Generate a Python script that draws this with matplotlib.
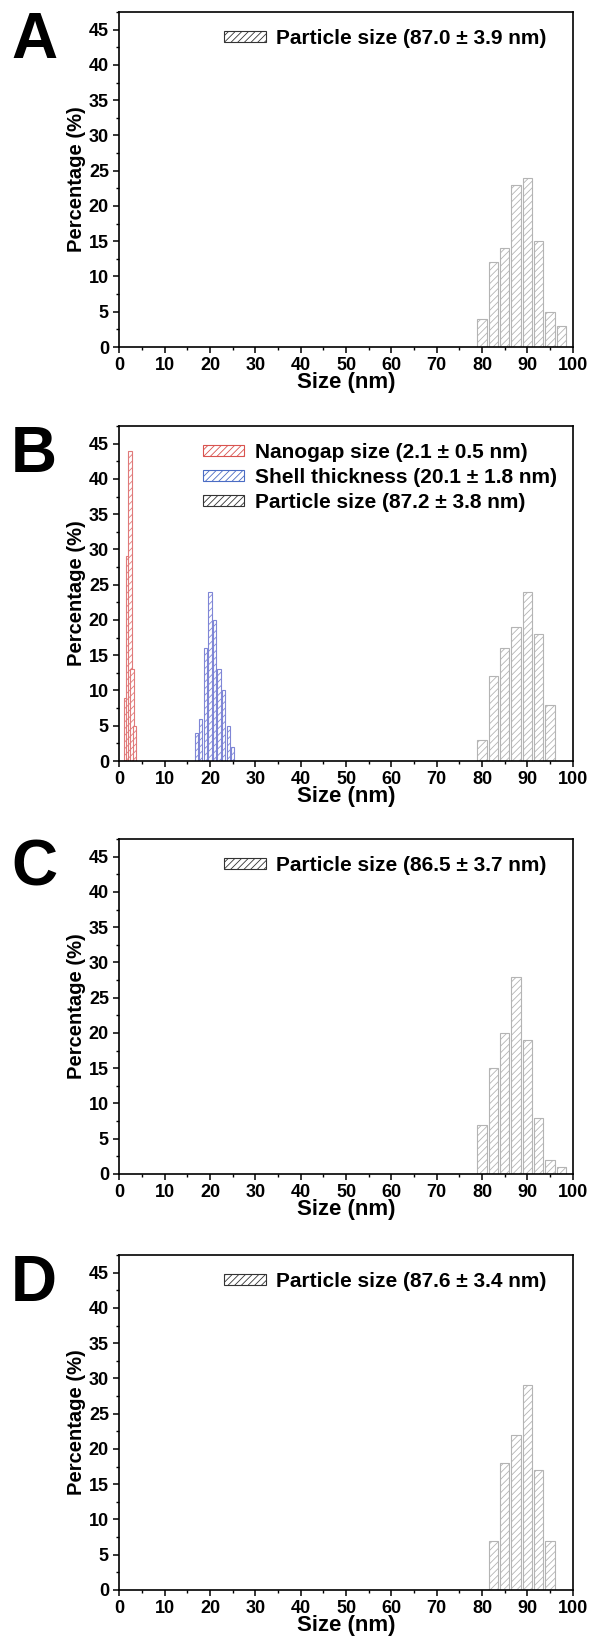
import numpy as np
import matplotlib
matplotlib.use("Agg")
from matplotlib import pyplot as plt
from matplotlib.patches import Patch
from matplotlib.ticker import MultipleLocator

plt.rcParams['font.family'] = ['Liberation Sans', 'DejaVu Sans']
plt.rcParams['font.weight'] = 'bold'
plt.rcParams['hatch.linewidth'] = 0.6

# particle size histograms (bin centre nm, percentage)
size_bins_a = [80, 82.5, 85, 87.5, 90, 92.5, 95, 97.5]
size_pct_a = [4, 12, 14, 23, 24, 15, 5, 3]

size_bins_b = [80, 82.5, 85, 87.5, 90, 92.5, 95]
size_pct_b = [3, 12, 16, 19, 24, 18, 8]

gap_bins_b = [1.4, 1.9, 2.35, 2.8, 3.3]
gap_pct_b = [9, 29, 44, 13, 5]

shell_bins_b = [17, 18, 19, 20, 21, 22, 23, 24, 25]
shell_pct_b = [4, 6, 16, 24, 20, 13, 10, 5, 2]

size_bins_c = [80, 82.5, 85, 87.5, 90, 92.5, 95, 97.5]
size_pct_c = [7, 15, 20, 28, 19, 8, 2, 1]

size_bins_d = [82.5, 85, 87.5, 90, 92.5, 95]
size_pct_d = [7, 18, 22, 29, 17, 7]

panel_letters = ['A', 'B', 'C', 'D']
size_labels = ['Particle size (87.0 ± 3.9 nm)', 'Particle size (87.2 ± 3.8 nm)',
               'Particle size (86.5 ± 3.7 nm)', 'Particle size (87.6 ± 3.4 nm)']
gap_label = 'Nanogap size (2.1 ± 0.5 nm)'
shell_label = 'Shell thickness (20.1 ± 1.8 nm)'

W, H = 590, 1650
fig = plt.figure(figsize=(W / 100, H / 100), dpi=100)

bottoms = [347, 761, 1174, 1590]
left, right = 119.3, 572.7
ax_h = 335
legend_x = [0.943, 0.965, 0.943, 0.943]

grey = '#b4b4b4'
red = '#e07a7a'
blue = '#7f86d6'
hatch = '/////'

size_data = [(size_bins_a, size_pct_a), (size_bins_b, size_pct_b),
             (size_bins_c, size_pct_c), (size_bins_d, size_pct_d)]

for i, b in enumerate(bottoms):
    ax = fig.add_axes([left / W, 1 - b / H, (right - left) / W, ax_h / H])
    bins, pct = size_data[i]
    ax.bar(bins, pct, width=2.1, color='white', edgecolor=grey, hatch=hatch, linewidth=0.8)
    handles = []
    labels = []
    if i == 1:
        ax.bar(gap_bins_b, gap_pct_b, width=0.7, color='white', edgecolor=red, hatch=hatch, linewidth=0.8)
        ax.bar(shell_bins_b, shell_pct_b, width=0.7, color='white', edgecolor=blue, hatch=hatch, linewidth=0.8)
        handles += [Patch(facecolor='white', edgecolor='#d9534f', hatch=hatch, linewidth=0.8),
                    Patch(facecolor='white', edgecolor='#4a6cc4', hatch=hatch, linewidth=0.8)]
        labels += [gap_label, shell_label]
    handles.append(Patch(facecolor='white', edgecolor='#333333', hatch=hatch, linewidth=0.8))
    labels.append(size_labels[i])
    ax.legend(handles, labels, loc='upper right', frameon=False, fontsize=15,
              handlelength=2.0, handleheight=0.45, handletextpad=0.5,
              labelspacing=0.3, borderaxespad=0, borderpad=0,
              bbox_to_anchor=(legend_x[i], 0.95))

    ax.set_xlim(0, 100)
    ax.set_ylim(0, 47.5)
    ax.xaxis.set_major_locator(MultipleLocator(10))
    ax.xaxis.set_minor_locator(MultipleLocator(5))
    ax.yaxis.set_major_locator(MultipleLocator(5))
    ax.yaxis.set_minor_locator(MultipleLocator(2.5))
    ax.tick_params(which='major', direction='out', length=4.5, width=1.1, labelsize=13, pad=3)
    ax.tick_params(which='minor', direction='out', length=2.5, width=1.0)
    for s in ax.spines.values():
        s.set_linewidth(1.2)
    ax.set_xlabel('Size (nm)', fontsize=16, fontweight='bold', labelpad=-2)
    ax.set_ylabel('Percentage (%)', fontsize=14.5, fontweight='bold', labelpad=2)
    for t in ax.get_xticklabels() + ax.get_yticklabels():
        t.set_fontweight('bold')

    fig.text(11 / W, 1 - (b - ax_h + 46) / H, panel_letters[i], fontsize=46,
             fontweight='bold', ha='left', va='baseline')

fig.savefig('out.png', dpi=100)
